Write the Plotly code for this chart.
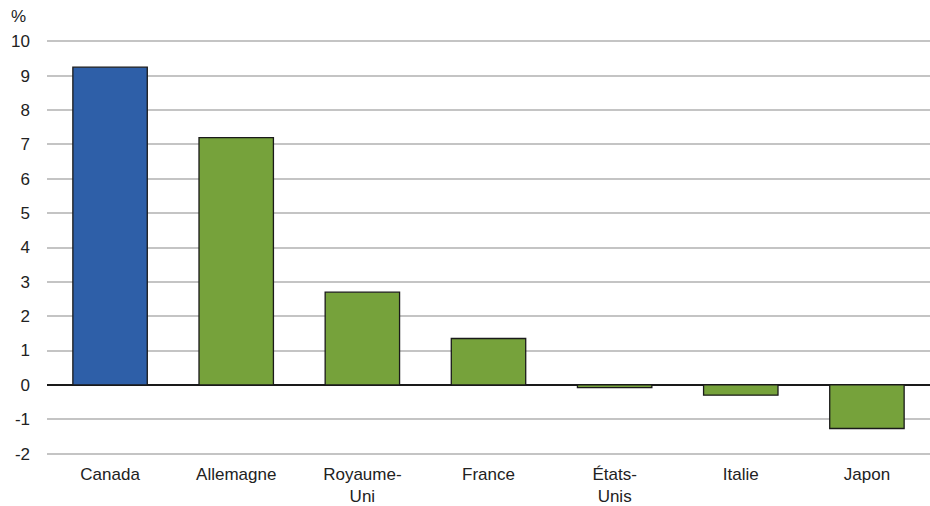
import plotly.graph_objects as go

categories = ["Canada", "Allemagne", "Royaume-<br>Uni", "France", "États-<br>Unis", "Italie", "Japon"]
values = [9.25, 7.2, 2.7, 1.35, -0.08, -0.3, -1.27]
colors = ["#2e5fa8", "#76a23b", "#76a23b", "#76a23b", "#76a23b", "#76a23b", "#76a23b"]
y_ticks = [-2, -1, 0, 1, 2, 3, 4, 5, 6, 7, 8, 9, 10]
y_tick_text = ["-2", "-1", "0", "1", "2", "3", "4", "5", "6", "7", "8", "9", "10"]

W, H = 930, 506
L, R, T, B = 47, 0, 37.6, 48.6
fig = go.Figure()
fig.add_trace(go.Bar(
    x=categories, y=values,
    marker=dict(color=colors, line=dict(color="#1a1a1a", width=1.3)),
    width=0.59,
))

font = "Liberation Sans, Arial, sans-serif"
fig.update_layout(
    width=W, height=H,
    margin=dict(l=L, r=R, t=T, b=B, autoexpand=False),
    plot_bgcolor="white", paper_bgcolor="white",
    showlegend=False,
    font=dict(family=font, size=17, color="#222"),
    xaxis=dict(showgrid=False, showline=False, ticks="", ticklabelstandoff=5, automargin=False,
               tickfont=dict(size=17, color="#222")),
    yaxis=dict(range=[-2.1, 10.1], tickvals=y_ticks, ticktext=y_tick_text, showgrid=True,
               gridcolor="#c4c4c4", automargin=False,
               gridwidth=1.6, zeroline=True, zerolinecolor="#1a1a1a", zerolinewidth=1.6,
               showline=False, ticks="", ticklabelstandoff=16,
               tickfont=dict(size=17, color="#222")),
    annotations=[dict(text="%", x=(18 - L) / (W - L - R), y=1 + (T - 16) / (H - T - B),
                      xref="paper", yref="paper", showarrow=False,
                      xanchor="center", yanchor="middle", font=dict(size=17, color="#222"))],
)
post = ("document.body.style.margin='0';document.body.style.padding='0';"
        "document.documentElement.style.overflow='hidden';"
        "var gd=document.getElementById('{plot_id}');"
        "Plotly.relayout(gd,{width:930,height:506});")
fig.write_html("out.html", post_script=post, config={"displayModeBar": False})
